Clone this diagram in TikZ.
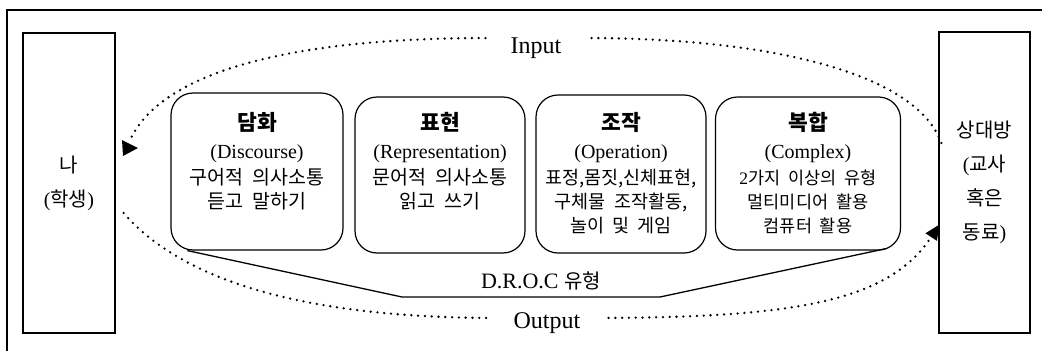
\documentclass[tikz,border=0pt]{standalone}
\usepackage{fontspec}
\setmainfont{Liberation Serif}
\newfontfamily\kr{Noto Sans CJK KR}
\usetikzlibrary{arrows.meta,calc}

% header, latin line and word gap inside the D.R.O.C cards
\newcommand\cardhead[1]{{\kr\bfseries\fontsize{21.5}{24}\selectfont #1}}
\newcommand\cardlatin[1]{{\rmfamily\fontsize{20}{24}\selectfont #1}}
\newcommand\ksp{\hspace{0.45em}}

\tikzset{
  frameline/.style={line width=1.4pt},
  person/.style={draw, line width=1.2pt, inner sep=0pt, align=center,
    font=\fontsize{20}{34}\selectfont},
  card/.style={draw, line width=1.2pt, rounded corners=22pt, inner sep=0pt},
  cardtext/.style={anchor=north, align=center, inner sep=0pt,
    font=\kr\fontsize{19.5}{24}\selectfont},
  cardtextmid/.style={cardtext, font=\kr\fontsize{18.5}{24}\selectfont},
  cardtextsmall/.style={cardtext, font=\kr\fontsize{17.5}{24}\selectfont},
  flow/.style={line width=2.6pt, line cap=round, dash pattern=on 0pt off 6.8pt},
  funnel/.style={line width=1.3pt, line join=round},
  lbl/.style={anchor=base, inner sep=0pt, font=\fontsize{24}{28}\selectfont},
}

\begin{document}
\begin{tikzpicture}[x=1pt,y=-1pt]
\useasboundingbox (0,0) rectangle (1042,351);
\fill[white] (0,0) rectangle (1042,351);

% outer frame
\draw[frameline] (7,351) -- (7,10) -- (1042,10);

% the two partners
\node[person, minimum width=92pt, minimum height=300pt] (me) at (69,183)
  {{\kr 나}\\({\kr 학생})};
\node[person, minimum width=91pt, minimum height=301pt] (you) at (984.5,182.5)
  {{\kr 상대방}\\({\kr 교사}\\{\kr 혹은}\\{\kr 동료})};

% D.R.O.C cards
\node[card, minimum width=172pt, minimum height=157pt] (c1) at (257,171.5) {};
\node[card, minimum width=170pt, minimum height=156pt] (c2) at (440,175) {};
\node[card, minimum width=170pt, minimum height=158pt] (c3) at (621,174) {};
\node[card, minimum width=185pt, minimum height=153pt] (c4) at (808,173.5) {};

\node[cardtext] (t1) at (257,112)
  {\cardhead{담화}\\[4pt]\cardlatin{(Discourse)}\\[2pt]구어적\ksp 의사소통\\듣고\ksp 말하기};
\node[cardtext] (t2) at (440,112)
  {\cardhead{표현}\\[4pt]\cardlatin{(Representation)}\\[2pt]문어적\ksp 의사소통\\읽고\ksp 쓰기};
\node[cardtextmid] (t3) at (621,112)
  {\cardhead{조작}\\[4pt]\cardlatin{(Operation)}\\[2pt]표정,몸짓,신체표현,\\구체물\ksp 조작활동,\\놀이\ksp 및\ksp 게임};
\node[cardtextsmall] (t4) at (808,112)
  {\cardhead{복합}\\[4pt]\cardlatin{(Complex)}\\[2pt]{\rmfamily 2}가지\ksp 이상의\ksp 유형\\멀티미디어\ksp 활용\\컴퓨터\ksp 활용};

% funnel gathering the four types
\coordinate (fl) at (402,297);
\coordinate (fr) at (660,297);
\draw[funnel] ($(c1.south west)+(17,0)$) -- (fl) -- (fr) -- ($(c4.south east)+(-15,-2)$);
\node[anchor=base, inner sep=0pt, font=\fontsize{22}{26}\selectfont] (droc) at (541,288)
  {D.R.O.C {\kr\fontsize{20}{24}\selectfont 유형}};

% input / output loop
\node[lbl] (in) at (536,53) {Input};
\node[lbl] (out) at (547,328) {Output};
\coordinate (inarrow) at (131,138);

\draw[flow] ($(you.west)+(3,-39.5)$) .. controls (915,70) and (760,38) .. ($(in.north east)+(26,1)$);
\draw[flow] ($(in.north west)+(-25,1)$) .. controls (330,38) and (170,60) .. (inarrow);
\fill (122,140) -- (138,148) -- (123,156) -- cycle;

\draw[flow] ($(me.east)+(8,30)$) .. controls (190,290) and (330,317) .. ($(out.north west)+(-26,6)$);
\draw[flow, -{Triangle[length=15pt,width=13pt]}] ($(out.north east)+(28,6)$)
  .. controls (800,317) and (890,300) .. ($(you.west)+(1,42)$);
\end{tikzpicture}
\end{document}
